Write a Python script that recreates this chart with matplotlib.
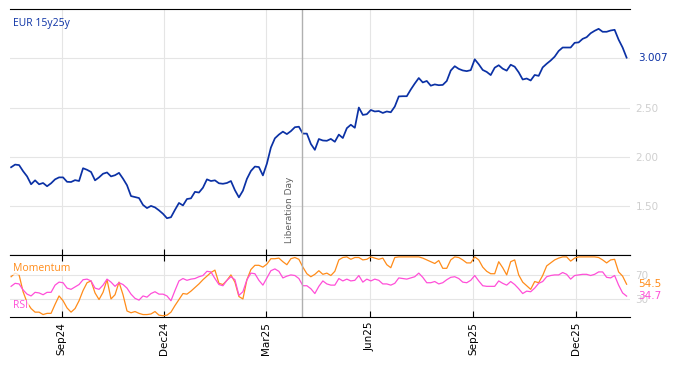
import matplotlib
matplotlib.use('Agg')
import matplotlib.pyplot as plt
import matplotlib.dates as mdates
import pandas as pd
import numpy as np

# EUR 15y25y forward rate (roughly every 3.5 days)
rate = [1.893, 1.92, 1.915, 1.853, 1.80, 1.72, 1.76, 1.72, 1.733, 1.70,
        1.73, 1.77, 1.79, 1.79, 1.745, 1.743, 1.762, 1.753, 1.883, 1.867,
        1.845, 1.76, 1.79, 1.827, 1.84, 1.80, 1.812, 1.836, 1.777, 1.71,
        1.60, 1.59, 1.58, 1.51, 1.478, 1.50, 1.485, 1.455, 1.42, 1.375,
        1.385, 1.46, 1.53, 1.505, 1.57, 1.577, 1.643, 1.636, 1.685, 1.77,
        1.753, 1.76, 1.73, 1.725, 1.733, 1.753, 1.66, 1.587, 1.655, 1.775,
        1.855, 1.90, 1.895, 1.81, 1.93, 2.093, 2.187, 2.225, 2.255, 2.23,
        2.26, 2.30, 2.305, 2.235, 2.235, 2.13, 2.07, 2.18, 2.165, 2.162,
        2.181, 2.152, 2.225, 2.19, 2.29, 2.325, 2.294, 2.50, 2.425, 2.432,
        2.475, 2.46, 2.464, 2.445, 2.46, 2.452, 2.51, 2.613, 2.615, 2.615,
        2.683, 2.744, 2.80, 2.755, 2.77, 2.722, 2.735, 2.727, 2.73, 2.77,
        2.876, 2.92, 2.893, 2.877, 2.87, 2.88, 2.99, 2.94, 2.882, 2.862,
        2.83, 2.905, 2.93, 2.895, 2.875, 2.935, 2.915, 2.858, 2.785, 2.795,
        2.775, 2.831, 2.822, 2.908, 2.945, 2.978, 3.017, 3.075, 3.11, 3.11,
        3.11, 3.158, 3.162, 3.198, 3.215, 3.255, 3.28, 3.30, 3.27, 3.27,
        3.283, 3.29, 3.19, 3.11, 3.007]

momentum = [67, 73, 70, 42, 24, 14, 8, 8, 4, 6,
            6, 21, 35, 27, 15, 8, 14, 27, 44, 57,
            60, 40, 29, 41, 62, 30, 37, 58, 37, 10,
            7, 9, 6, 4, 4, 5, 9, 3, 2, 3,
            8, 19, 29, 39, 38, 43, 49, 55, 62, 68,
            74, 78, 56, 54, 61, 70, 58, 34, 30, 62,
            79, 86, 86, 83, 88, 97, 97, 98, 92, 87,
            97, 99, 96, 83, 72, 67, 71, 77, 71, 73,
            69, 76, 95, 99, 100, 96, 99, 99, 95, 96,
            100, 98, 96, 98, 87, 82, 99, 100, 100, 100,
            100, 100, 100, 98, 95, 92, 89, 94, 81, 81,
            95, 100, 99, 95, 90, 90, 100, 95, 83, 76,
            72, 72, 92, 82, 70, 92, 95, 70, 58, 52,
            46, 59, 57, 69, 85, 90, 95, 98, 100, 100,
            93, 98, 100, 100, 100, 100, 100, 99, 95, 90,
            95, 96, 75, 68, 54.5]

rsi = [51, 56, 55, 45, 38, 35, 41, 40, 37, 41,
       41, 53, 58, 57, 48, 46, 50, 54, 62, 63,
       60, 48, 46, 53, 63, 58, 51, 57, 54, 48,
       38, 31, 28, 35, 33, 39, 42, 38, 38, 35,
       27, 44, 60, 64, 61, 63, 64, 67, 69, 76,
       75, 64, 54, 52, 61, 67, 62, 36, 42, 62,
       73, 72, 61, 53, 65, 77, 80, 76, 65, 68,
       70, 69, 64, 52, 52, 47, 39, 51, 60, 55,
       53, 53, 64, 60, 63, 60, 61, 69, 58, 63,
       60, 63, 61, 55, 55, 53, 56, 65, 64, 63,
       65, 67, 73, 66, 57, 57, 59, 55, 57, 62,
       66, 67, 64, 58, 57, 61, 69, 60, 52, 51,
       51, 51, 60, 56, 53, 59, 54, 47, 39, 43,
       42, 48, 56, 59, 67, 69, 70, 70, 74, 71,
       63, 69, 70, 71, 71, 69, 71, 75, 75, 66,
       65, 69, 53, 40, 34.7]

start, end = '2024-07-18', '2026-01-15'
event_date = pd.Timestamp('2025-04-02')

BLUE = '#0b31a5'
ORANGE = '#ff8c1a'
PINK = '#ff4fd8'
GRID = '#e5e5e5'
TICKGREY = '#cfcfcf'

def dates_for(vals):
    return pd.date_range(start, end, periods=len(vals))

fig = plt.figure(figsize=(6.74, 3.66), dpi=100)
ax = fig.add_axes([0.0148, 0.303, 0.9199, 0.672])
ax2 = fig.add_axes([0.0148, 0.134, 0.9199, 0.169], sharex=ax)

ax.plot(dates_for(rate), rate, color=BLUE, lw=1.25)
ax2.plot(dates_for(momentum), momentum, color=ORANGE, lw=0.9)
ax2.plot(dates_for(rsi), rsi, color=PINK, lw=0.9)

ax.set_xlim(pd.Timestamp('2024-07-17'), pd.Timestamp('2026-01-18'))
ax.set_ylim(1.0, 3.5)
ax2.set_ylim(0, 103)

for a in (ax, ax2):
    a.xaxis.set_major_locator(mdates.MonthLocator(bymonth=[3, 6, 9, 12]))
    a.xaxis.set_major_formatter(mdates.DateFormatter('%b%y'))
    a.grid(True, color=GRID, lw=0.8)
    a.set_axisbelow(True)
    a.spines['left'].set_visible(False)
    a.spines['right'].set_visible(False)
    a.axvline(event_date, color='#b0b0b0', lw=1)
    a.yaxis.tick_right()
    a.tick_params(axis='y', length=0, pad=4, labelsize=7.5, labelcolor=TICKGREY)
    a.tick_params(axis='x', direction='in', length=4, width=0.8)

ax.set_yticks([1.5, 2.0, 2.5, 3.0])
ax.set_yticklabels(['1.50', '2.00', '2.50', ''])
ax.tick_params(axis='x', labelbottom=False)

ax2.set_yticks([30, 70])
ax2.tick_params(axis='x', top=True, labelrotation=90, labelsize=7.5)

# last value labels
ax.annotate('{:.3f}'.format(rate[-1]), xy=(1, rate[-1]), xycoords=('axes fraction', 'data'),
            xytext=(6, 0), textcoords='offset points', va='center', fontsize=7.5, color=BLUE)
ax2.annotate('{:.1f}'.format(momentum[-1]), xy=(1, momentum[-1]), xycoords=('axes fraction', 'data'),
             xytext=(6, 0), textcoords='offset points', va='center', fontsize=7.5, color=ORANGE)
ax2.annotate('{:.1f}'.format(rsi[-1]), xy=(1, rsi[-1]), xycoords=('axes fraction', 'data'),
             xytext=(6, 0), textcoords='offset points', va='center', fontsize=7.5, color=PINK)

ax.text(0.005, 0.94, 'EUR 15y25y', transform=ax.transAxes, color=BLUE, fontsize=7.5,
        family='Open Sans', va='center')
ax.text(event_date - pd.Timedelta(days=11), 1.12, 'Liberation Day', rotation=90,
        color='#606060', fontsize=6.5, ha='center', va='bottom')

box = dict(facecolor='white', edgecolor='none', alpha=0.75, pad=0.5)
ax2.text(0.005, 0.78, 'Momentum', transform=ax2.transAxes, color=ORANGE, fontsize=7.5,
         family='Open Sans', va='center', bbox=box)
ax2.text(0.005, 0.18, 'RSI', transform=ax2.transAxes, color=PINK, fontsize=7.5,
         family='Open Sans', va='center', bbox=box)

fig.savefig('out.png', dpi=100)
